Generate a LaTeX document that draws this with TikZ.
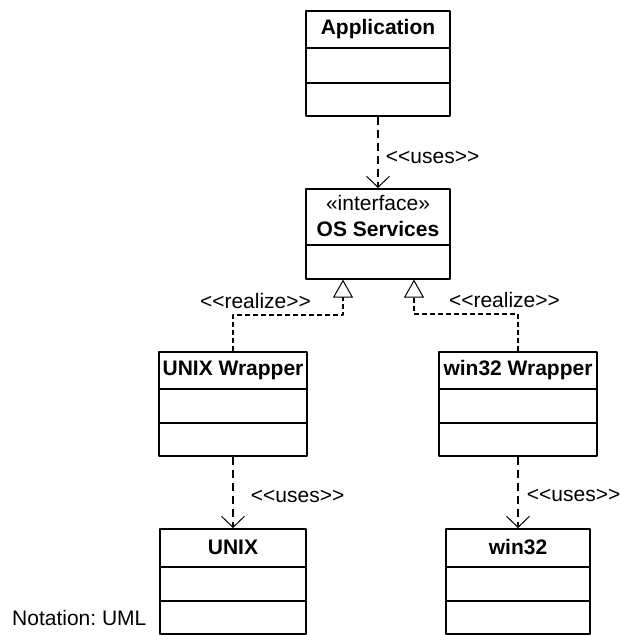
\documentclass[tikz,border=0pt]{standalone}
\usepackage{fontspec}
\setmainfont{Liberation Sans}
\usetikzlibrary{arrows.meta}
\frenchspacing

\begin{document}
\begin{tikzpicture}[x=1pt, y=-1pt, font=\fontsize{21}{26}\selectfont, line join=round,
  cls/.style={draw, line width=1.6pt, anchor=north, inner sep=0pt},
  sep/.style={line width=1.6pt},
  title/.style={inner sep=0pt, align=center, font=\fontsize{21}{26}\selectfont\bfseries},
  lbl/.style={inner sep=0pt},
  uses/.style={line width=1.9pt, dash pattern=on 8.5pt off 4.5pt,
    -{Straight Barb[length=11pt,width=23pt,line width=1pt]}},
  realize/.style={line width=1.4pt, dash pattern=on 5pt off 3pt,
    -{Triangle[open,length=18pt,width=20pt,line width=1pt]}}]
\useasboundingbox (0,0) rectangle (620,635);
% classes
\node[cls, minimum width=144pt, minimum height=105pt] (app) at (378,10) {};
\node[cls, minimum width=144pt, minimum height=90pt] (os) at (378,188) {};
\node[cls, minimum width=148pt, minimum height=104pt] (unixw) at (233,351) {};
\node[cls, minimum width=158pt, minimum height=104pt] (winw) at (518,351) {};
\node[cls, minimum width=146pt, minimum height=105pt] (unix) at (233,528) {};
\node[cls, minimum width=144pt, minimum height=105pt] (win) at (518,528) {};
% compartments
\foreach \n/\a/\b in {app/38/73, unixw/38/72, winw/38/72, unix/39/73, win/39/73}{
  \draw[sep] ([yshift=-\a pt]\n.north west) -- ([yshift=-\a pt]\n.north east);
  \draw[sep] ([yshift=-\b pt]\n.north west) -- ([yshift=-\b pt]\n.north east);
}
\draw[sep] ([yshift=-57pt]os.north west) -- ([yshift=-57pt]os.north east);
% names
\node[title] (app-t) at ([yshift=-19pt]app.north) {Application};
\node[title] (os-t) at ([yshift=-28pt]os.north) {\mdseries «interface»\\OS Services};
\node[title] (unixw-t) at ([yshift=-19pt]unixw.north) {UNIX Wrapper};
\node[title] (winw-t) at ([yshift=-19pt]winw.north) {win32 Wrapper};
\node[title] (unix-t) at ([yshift=-19.5pt]unix.north) {UNIX};
\node[title] (win-t) at ([yshift=-19.5pt]win.north) {win32};
% relations
\draw[uses] (app) -- (os)
  node[lbl, anchor=base west, pos=0.658, xshift=7pt] (u1) {<{}<uses>{}>};
\draw[uses] (unixw) -- (unix)
  node[lbl, anchor=base west, pos=0.644, xshift=17pt] (u2) {<{}<uses>{}>};
\draw[uses] (winw) -- (win)
  node[lbl, anchor=base west, pos=0.63, xshift=8pt] (u3) {<{}<uses>{}>};
\draw[realize] (unixw.north) -- ++(0,-36) -| ([xshift=-35pt]os.south);
\draw[realize] (winw.north) -- ++(0,-37) -| ([xshift=36pt]os.south);
\node[lbl, anchor=base] (r1) at (255.5,308) {<{}<realize>{}>};
\node[lbl, anchor=base] (r2) at (504.5,307) {<{}<realize>{}>};
\node[lbl, anchor=base west] (note) at (12,625) {Notation: UML};
\end{tikzpicture}
\end{document}
